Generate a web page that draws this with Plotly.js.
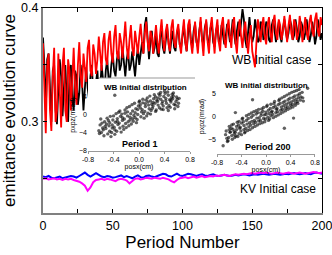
<!DOCTYPE html>
<html>
<head>
<meta charset="utf-8">
<script src="https://cdn.plot.ly/plotly-3.0.1.min.js"></script>
<style>html,body{margin:0;padding:0;background:#fff;}#chart{width:332px;height:255px;}</style>
</head>
<body>
<div id="chart"></div>
<script>
// WB initial case, emittance per period 0..200 (step 1)
const wbBlack = [
0.374,0.350,0.310,0.355,0.360,0.320,0.300,0.345,0.350,0.310,
0.298,0.330,0.355,0.340,0.305,0.330,0.350,0.320,0.300,0.340,
0.350,0.320,0.310,0.345,0.340,0.315,0.325,0.350,0.335,0.310,
0.330,0.348,0.330,0.320,0.340,0.350,0.325,0.318,0.335,0.345,
0.320,0.330,0.350,0.340,0.325,0.345,0.355,0.338,0.336,0.350,
0.360,0.345,0.340,0.355,0.362,0.345,0.350,0.365,0.352,0.340,
0.355,0.362,0.345,0.350,0.362,0.350,0.340,0.355,0.365,0.350,
0.358,0.370,0.360,0.385,0.392,0.370,0.355,0.370,0.380,0.360,
0.365,0.378,0.360,0.357,0.375,0.380,0.365,0.360,0.375,0.383,
0.370,0.360,0.372,0.380,0.365,0.362,0.378,0.382,0.368,0.365,
0.375,0.385,0.370,0.362,0.378,0.386,0.372,0.365,0.380,0.386,
0.370,0.366,0.380,0.388,0.372,0.368,0.383,0.388,0.372,0.368,
0.382,0.386,0.370,0.366,0.380,0.385,0.370,0.372,0.385,0.378,
0.368,0.375,0.386,0.380,0.370,0.378,0.390,0.378,0.368,0.380,
0.388,0.375,0.385,0.399,0.390,0.372,0.365,0.380,0.392,0.378,
0.370,0.375,0.390,0.382,0.370,0.372,0.388,0.386,0.372,0.375,
0.388,0.385,0.372,0.370,0.385,0.390,0.378,0.370,0.380,0.388,
0.375,0.370,0.382,0.390,0.380,0.372,0.378,0.390,0.385,0.372,
0.376,0.390,0.382,0.370,0.375,0.388,0.384,0.372,0.378,0.390,
0.380,0.370,0.376,0.388,0.380,0.368,0.375,0.390,0.382,0.372,
0.378];
const wbRed = [
0.369,0.320,0.290,0.350,0.360,0.310,0.292,0.340,0.365,0.300,
0.310,0.360,0.330,0.295,0.350,0.365,0.310,0.300,0.355,0.345,
0.310,0.340,0.365,0.330,0.315,0.350,0.370,0.340,0.330,0.360,
0.345,0.335,0.365,0.372,0.345,0.340,0.368,0.360,0.342,0.355,
0.375,0.360,0.345,0.370,0.378,0.355,0.350,0.372,0.380,0.360,
0.352,0.375,0.385,0.360,0.355,0.378,0.370,0.356,0.375,0.388,
0.366,0.355,0.372,0.385,0.365,0.358,0.380,0.372,0.360,0.375,
0.386,0.370,0.360,0.378,0.388,0.370,0.362,0.380,0.375,0.360,
0.372,0.385,0.370,0.360,0.378,0.390,0.372,0.362,0.380,0.386,
0.368,0.362,0.383,0.390,0.370,0.365,0.380,0.386,0.368,0.360,
0.378,0.390,0.370,0.362,0.385,0.390,0.370,0.360,0.375,0.388,
0.372,0.360,0.378,0.392,0.372,0.358,0.380,0.390,0.370,0.360,
0.383,0.392,0.375,0.360,0.380,0.390,0.370,0.362,0.385,0.392,
0.372,0.365,0.382,0.390,0.375,0.365,0.385,0.392,0.370,0.360,
0.380,0.390,0.375,0.365,0.380,0.388,0.372,0.360,0.375,0.385,
0.362,0.355,0.348,0.370,0.390,0.382,0.370,0.385,0.392,0.375,
0.368,0.385,0.392,0.378,0.370,0.388,0.394,0.378,0.372,0.390,
0.385,0.372,0.380,0.393,0.380,0.370,0.385,0.394,0.378,0.372,
0.390,0.386,0.372,0.378,0.393,0.384,0.370,0.382,0.392,0.378,
0.372,0.388,0.394,0.380,0.375,0.390,0.396,0.380,0.375,0.392,
0.385];
// KV initial case, periods 0..200 (step 2)
const kvBlue = [
0.2520,0.2515,0.2525,0.2510,0.2505,0.2515,0.2520,0.2505,0.2510,0.2515,
0.2525,0.2520,0.2510,0.2525,0.2540,0.2555,0.2535,0.2520,0.2535,0.2550,
0.2535,0.2520,0.2515,0.2525,0.2520,0.2510,0.2515,0.2525,0.2530,0.2515,
0.2525,0.2515,0.2505,0.2520,0.2530,0.2515,0.2510,0.2525,0.2530,0.2520,
0.2515,0.2525,0.2535,0.2545,0.2540,0.2525,0.2520,0.2535,0.2545,0.2530,
0.2525,0.2535,0.2545,0.2540,0.2530,0.2525,0.2535,0.2540,0.2530,0.2525,
0.2535,0.2540,0.2530,0.2525,0.2530,0.2535,0.2530,0.2525,0.2530,0.2535,
0.2530,0.2535,0.2540,0.2535,0.2530,0.2535,0.2540,0.2535,0.2540,0.2545,
0.2540,0.2535,0.2540,0.2545,0.2540,0.2535,0.2540,0.2545,0.2540,0.2545,
0.2550,0.2545,0.2540,0.2545,0.2550,0.2545,0.2540,0.2550,0.2555,0.2550,
0.2545];
const kvMagenta = [
0.2500,0.2505,0.2495,0.2500,0.2505,0.2495,0.2500,0.2490,0.2500,0.2495,
0.2500,0.2490,0.2485,0.2475,0.2460,0.2440,0.2395,0.2425,0.2470,0.2490,
0.2495,0.2500,0.2490,0.2500,0.2495,0.2490,0.2480,0.2495,0.2500,0.2495,
0.2485,0.2460,0.2480,0.2500,0.2505,0.2495,0.2500,0.2510,0.2505,0.2500,
0.2510,0.2505,0.2500,0.2510,0.2505,0.2495,0.2480,0.2470,0.2490,0.2505,
0.2510,0.2515,0.2505,0.2515,0.2520,0.2510,0.2520,0.2525,0.2515,0.2520,
0.2525,0.2520,0.2530,0.2525,0.2530,0.2535,0.2530,0.2525,0.2535,0.2540,
0.2535,0.2540,0.2545,0.2540,0.2545,0.2550,0.2545,0.2550,0.2555,0.2550,
0.2555,0.2550,0.2545,0.2550,0.2555,0.2550,0.2545,0.2550,0.2555,0.2550,
0.2545,0.2550,0.2555,0.2550,0.2545,0.2550,0.2555,0.2560,0.2555,0.2550,
0.2555];
// Inset scatter: [posx (cm), pxpz (mrad)]
const period1Points = [
[-0.63,-3.5],[-0.61,-2.2],[-0.62,-4.1],
[-0.58,-1.8],[-0.59,-3.9],[-0.57,-2.9],[-0.60,-0.9],
[-0.55,-4.6],[-0.53,-2.5],[-0.54,-1.5],[-0.56,-3.3],
[-0.50,-0.7],[-0.52,-3.0],[-0.49,-4.2],[-0.51,-2.0],[-0.48,-1.2],
[-0.46,-3.6],[-0.47,-2.4],[-0.45,-0.3],[-0.44,-4.8],[-0.46,-1.7],
[-0.42,-2.9],[-0.41,-1.1],[-0.43,-3.9],[-0.40,-0.2],[-0.42,-2.2],
[-0.38,-4.3],[-0.37,-1.6],[-0.39,-2.7],[-0.36,0.3],[-0.38,-3.3],
[-0.34,-0.8],[-0.33,-2.1],[-0.35,-3.6],[-0.32,0.6],[-0.34,-1.4],
[-0.30,-2.9],[-0.29,-0.3],[-0.31,-1.8],[-0.28,-3.8],[-0.30,0.9],
[-0.26,-1.2],[-0.25,-2.5],[-0.27,0.2],[-0.24,-3.2],[-0.26,-0.6],
[-0.22,1.1],[-0.21,-1.9],[-0.23,-0.9],[-0.20,-2.8],[-0.22,0.4],
[-0.18,-0.2],[-0.17,-1.5],[-0.19,1.6],[-0.16,-2.4],[-0.18,0.7],
[-0.14,-1.1],[-0.13,0.3],[-0.15,1.9],[-0.12,-2.0],[-0.14,-0.5],
[-0.10,0.9],[-0.09,-1.4],[-0.11,2.3],[-0.08,-0.1],[-0.10,-0.8],
[-0.06,-0.6],[-0.05,1.4],[-0.07,2.6],[-0.04,-1.7],[-0.06,0.5],
[-0.02,0.1],[-0.01,2.0],[-0.03,-1.0],[0.00,2.9],[-0.02,1.2],
[0.02,1.6],[0.03,-0.4],[0.01,3.1],[0.04,0.7],[0.02,2.3],
[0.06,2.7],[0.07,0.3],[0.05,1.2],[0.08,-0.7],[0.06,3.5],
[0.10,1.9],[0.11,3.3],[0.09,0.8],[0.12,-0.2],[0.10,2.5],
[0.14,0.4],[0.15,2.2],[0.13,3.8],[0.16,1.4],[0.14,2.9],
[0.18,3.1],[0.19,1.0],[0.17,4.2],[0.20,2.4],[0.18,0.2],
[0.22,2.0],[0.23,3.6],[0.21,1.5],[0.24,4.5],[0.22,2.8],
[0.26,4.0],[0.27,1.1],[0.25,2.6],[0.28,3.3],[0.26,0.8],
[0.30,2.2],[0.31,4.7],[0.29,3.0],[0.32,1.6],[0.30,3.8],
[0.34,3.5],[0.35,1.3],[0.33,4.4],[0.36,2.5],[0.34,5.0],
[0.38,2.0],[0.39,4.1],[0.37,3.0],[0.40,5.3],[0.38,1.2],
[0.42,3.7],[0.43,2.6],[0.41,4.8],[0.44,1.6],[0.42,3.2],
[0.46,4.4],[0.47,2.1],[0.45,5.1],[0.48,3.4],[0.46,1.0],
[0.50,2.9],[0.51,3.9],[0.49,1.7],[0.52,4.6],[0.50,3.3],
[0.54,4.2],[0.55,2.4],[0.53,3.6],[0.56,1.4],[0.54,4.9],
[0.58,3.0],[0.59,4.0],[0.57,2.2],[0.60,3.5],
[0.62,2.6],[0.63,3.7],[0.61,1.9],
[-0.38,4.4]];
const period200Points = [
[-0.64,-4.8],[-0.65,-3.2],[-0.63,-5.5],[-0.66,-4.0],
[-0.60,-2.9],[-0.61,-4.6],[-0.59,-3.5],[-0.62,-5.3],[-0.60,-2.2],
[-0.56,-4.2],[-0.57,-2.6],[-0.55,-5.0],[-0.58,-3.4],[-0.56,-1.9],
[-0.52,-3.9],[-0.53,-1.7],[-0.51,-4.6],[-0.54,-2.8],[-0.52,-3.3],
[-0.48,-2.2],[-0.49,-4.3],[-0.47,-1.3],[-0.50,-3.5],[-0.48,-2.9],
[-0.44,-3.8],[-0.45,-1.9],[-0.43,-2.6],[-0.46,-4.4],[-0.44,-1.1],
[-0.40,-1.5],[-0.41,-3.2],[-0.39,-0.6],[-0.42,-2.4],[-0.40,-4.0],
[-0.36,-2.9],[-0.37,-1.2],[-0.35,-3.6],[-0.38,-0.4],[-0.36,-2.0],
[-0.32,-0.9],[-0.33,-2.6],[-0.31,-1.7],[-0.34,-3.4],[-0.32,0.1],
[-0.28,-2.3],[-0.29,-0.5],[-0.27,-1.4],[-0.30,-3.1],[-0.28,0.4],
[-0.24,-0.2],[-0.25,-1.9],[-0.23,-1.1],[-0.26,-2.9],[-0.24,0.7],
[-0.20,-1.6],[-0.21,0.2],[-0.19,-0.9],[-0.22,-2.5],[-0.20,1.0],
[-0.16,0.5],[-0.17,-1.3],[-0.15,-0.4],[-0.18,-2.2],[-0.16,1.2],
[-0.12,-1.0],[-0.13,0.8],[-0.11,-0.3],[-0.14,-1.9],[-0.12,1.5],
[-0.08,0.2],[-0.09,-0.9],[-0.07,1.6],[-0.10,-1.6],[-0.08,0.7],
[-0.04,-0.5],[-0.05,1.1],[-0.03,0.3],[-0.06,-1.4],[-0.04,1.9],
[0.00,0.9],[-0.01,-0.6],[0.01,2.1],[-0.02,-1.2],[0.00,0.4],
[0.04,1.3],[0.03,-0.2],[0.05,0.6],[0.02,2.4],[0.04,-0.9],
[0.08,0.1],[0.07,1.7],[0.09,0.9],[0.06,-0.6],[0.08,2.6],
[0.12,1.9],[0.11,0.4],[0.13,2.8],[0.10,1.1],[0.12,-0.3],
[0.16,0.8],[0.15,2.2],[0.17,1.5],[0.14,3.2],[0.16,0.0],
[0.20,2.5],[0.19,1.0],[0.21,3.4],[0.18,1.7],[0.20,0.3],
[0.24,1.3],[0.23,2.8],[0.25,2.0],[0.22,3.7],[0.24,0.6],
[0.28,3.0],[0.27,1.5],[0.29,2.3],[0.26,4.0],[0.28,0.9],
[0.32,1.8],[0.31,3.3],[0.33,2.6],[0.30,4.3],[0.32,1.2],
[0.36,3.6],[0.35,2.0],[0.37,2.9],[0.34,4.6],[0.36,1.5],
[0.40,2.4],[0.39,3.9],[0.41,3.1],[0.38,4.9],[0.40,1.8],
[0.44,4.1],[0.43,2.6],[0.45,3.4],[0.42,5.2],[0.44,2.0],
[0.48,2.9],[0.47,4.4],[0.49,3.7],[0.46,5.4],[0.48,2.4],
[0.52,4.6],[0.51,3.2],[0.53,4.0],[0.50,5.6],[0.52,2.8],
[0.56,3.5],[0.55,4.9],[0.57,4.2],[0.54,5.8],
[0.60,4.0],[0.59,5.2],[0.61,3.3],
[-0.70,-6.4],[0.68,6.1],[-0.22,3.6],[0.30,-2.6],[-0.50,0.8],[0.45,-0.4]];

const FONT = 'Liberation Sans, Arial, sans-serif';

const traces = [
  {type:'scatter', mode:'lines', x0:0, dx:1, y:wbBlack, line:{color:'#000000', width:1.8}, xaxis:'x', yaxis:'y', hoverinfo:'skip'},
  {type:'scatter', mode:'lines', x0:0, dx:1, y:wbRed, line:{color:'#ff0000', width:1.8}, xaxis:'x', yaxis:'y', hoverinfo:'skip'},
  {type:'scatter', mode:'lines', x0:0, dx:2, y:kvBlue, line:{color:'#0000ff', width:2}, xaxis:'x', yaxis:'y', hoverinfo:'skip'},
  {type:'scatter', mode:'lines', x0:0, dx:2, y:kvMagenta, line:{color:'#ff00ff', width:2}, xaxis:'x', yaxis:'y', hoverinfo:'skip'},
  // white backing behind the left inset
  {type:'scatter', mode:'lines', x:[0,1,1,0,0], y:[0,0,1,1,0], fill:'toself', fillcolor:'#ffffff', line:{width:0, color:'#ffffff'}, xaxis:'x2', yaxis:'y2', hoverinfo:'skip'},
  {type:'scatter', mode:'markers', x:period1Points.map(p=>p[0]), y:period1Points.map(p=>p[1]), marker:{size:3.4, color:'rgba(0,0,0,0.62)', line:{width:0}}, xaxis:'x3', yaxis:'y3', hoverinfo:'skip'},
  {type:'scatter', mode:'markers', x:period200Points.map(p=>p[0]), y:period200Points.map(p=>p[1]), marker:{size:3.4, color:'rgba(0,0,0,0.62)', line:{width:0}}, xaxis:'x4', yaxis:'y4', hoverinfo:'skip'},
  {type:'scatter', mode:'lines', x:[], y:[], xaxis:'x5', yaxis:'y5', hoverinfo:'skip'}
];

const insetAxisX = (domain, anchor) => ({
  domain: domain, anchor: anchor, range:[-0.8,0.8],
  tickvals:[-0.8,-0.4,0,0.4,0.8], ticktext:['-0.8','-0.4','0.0','0.4','0.8'],
  tickfont:{size:7, family:FONT}, ticks:'outside', ticklen:2, tickcolor:'#999',
  showline:true, linecolor:'#999', linewidth:1, showgrid:false, zeroline:false,
  ticklabeloverflow:'allow',
  title:{text:'posx(cm)', font:{size:7, family:FONT}, standoff:0}
});

const layout = {
  width:332, height:255,
  margin:{l:43, r:10, t:8, b:42, pad:0},
  paper_bgcolor:'#ffffff', plot_bgcolor:'#ffffff',
  showlegend:false,
  font:{family:FONT, color:'#000000'},
  xaxis:{
    domain:[0,1], range:[0,200],
    tickvals:[0,25,50,75,100,125,150,175,200],
    ticktext:['0','','50','','100','','150','','200'],
    ticks:'inside', ticklen:4, tickcolor:'#000', tickwidth:1,
    showline:true, linecolor:'#808080', linewidth:2,
    showgrid:false, zeroline:false, ticklabeloverflow:'allow',
    tickfont:{size:12.5, family:FONT},
    title:{text:'Period Number', font:{size:17, family:FONT}, standoff:3}
  },
  yaxis:{
    domain:[0,1], range:[0.22,0.40],
    tickvals:[0.25,0.3,0.35,0.4], ticktext:['','0.3','','0.4'],
    ticks:'inside', ticklen:4, tickcolor:'#000',
    showline:true, linecolor:'#808080', linewidth:2,
    showgrid:false, zeroline:false, ticklabeloverflow:'allow',
    tickfont:{size:12.5, family:FONT},
    title:{text:'emittance evolution curve', font:{size:17, family:FONT}, standoff:4}
  },
  xaxis5:{overlaying:'x', side:'top', range:[0,200], tickvals:[25,50,75,100,125,150,175],
    ticks:'inside', ticklen:4, tickcolor:'#000', showticklabels:false,
    showline:true, linecolor:'#000', linewidth:1, showgrid:false, zeroline:false},
  yaxis5:{overlaying:'y', side:'right', range:[0.22,0.40], tickvals:[0.25,0.3,0.35],
    ticks:'inside', ticklen:4, tickcolor:'#000', showticklabels:false,
    showline:true, linecolor:'#000', linewidth:1, showgrid:false, zeroline:false},
  xaxis2:{domain:[0.2007,0.5448], anchor:'y2', range:[0,1], visible:false, fixedrange:true},
  yaxis2:{domain:[0.2976,0.6585], anchor:'x2', range:[0,1], visible:false, fixedrange:true},
  xaxis3: insetAxisX([0.1613,0.5269], 'y3'),
  yaxis3:{domain:[0.3024,0.6537], anchor:'x3', range:[-8,8], tickvals:[-8,-4,0,4],
    tickfont:{size:7, family:FONT}, ticks:'', showline:false, showgrid:false, zeroline:false,
    title:{text:'pxpz(mrad)', font:{size:7, family:FONT}, standoff:2}},
  xaxis4: insetAxisX([0.6237,0.9749], 'y4'),
  yaxis4:{domain:[0.2878,0.6537], anchor:'x4', range:[-8.2,8.1], tickvals:[-5,0,5],
    tickfont:{size:7, family:FONT}, ticks:'', showline:false, showgrid:false, zeroline:false,
    title:{text:'pxpz(mrad)', font:{size:7, family:FONT}, standoff:2}},
  shapes:[
    {type:'line', xref:'paper', yref:'paper', x0:0.2007, x1:0.5448, y0:0.6585, y1:0.6585, line:{color:'#999', width:1}, layer:'above'}
  ],
  annotations:[
    {text:'WB Initial case', xref:'paper', yref:'y', x:0.971, y:0.3544, xanchor:'right', yanchor:'middle', showarrow:false, font:{size:12, family:FONT}},
    {text:'KV Initial case', xref:'paper', yref:'y', x:0.9857, y:0.2412, xanchor:'right', yanchor:'middle', showarrow:false, font:{size:12, family:FONT}},
    {text:'<b>WB initial distribution</b>', xref:'x3', yref:'y3', x:0.1, y:6.2, showarrow:false, font:{size:8, family:FONT}},
    {text:'<b>WB initial distribution</b>', xref:'x4', yref:'y4', x:0.0, y:6.6, showarrow:false, font:{size:8, family:FONT}},
    {text:'<b>Period 1</b>', xref:'x3', yref:'y3', x:0.016, y:-6.4, showarrow:false, font:{size:9, family:FONT}},
    {text:'<b>Period 200</b>', xref:'x4', yref:'y4', x:0.033, y:-6.7, showarrow:false, font:{size:9, family:FONT}}
  ]
};

Plotly.newPlot('chart', traces, layout, {staticPlot:true, displayModeBar:false});
</script>
</body>
</html>
